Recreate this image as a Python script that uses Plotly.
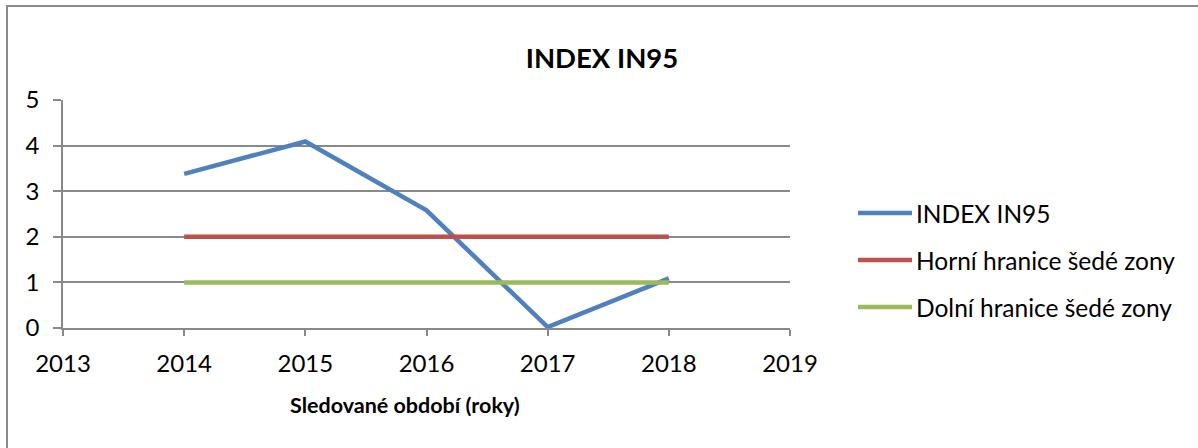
import plotly.graph_objects as go

# data
years = [2014, 2015, 2016, 2017, 2018]
index_in95 = [3.38, 4.09, 2.58, 0.02, 1.09]
horni_hranice = [2, 2, 2, 2, 2]
dolni_hranice = [1, 1, 1, 1, 1]

series_names = ["INDEX IN95", "Horní hranice šedé zony", "Dolní hranice šedé zony"]
series_colors = ["#4F81BD", "#C0504D", "#9BBB59"]

W, H = 1198, 448
# plot area in pixels
L, R, T, B = 63, 790, 100, 328
FONT = "Lato"
GRAY = "#898989"


def px(x):
    return (x - L) / (R - L)


def py(y):
    return (B - y) / (B - T)


fig = go.Figure()
for vals, name, color in zip([index_in95, horni_hranice, dolni_hranice], series_names, series_colors):
    fig.add_trace(go.Scatter(x=years, y=vals, mode="lines", name=name,
                             line=dict(color=color, width=4.5), showlegend=False))

shapes = [
    # outer chart border (runs off the right and bottom edge)
    dict(type="rect", xref="paper", yref="paper",
         x0=px(7), x1=px(1210), y0=py(460), y1=py(6),
         line=dict(color=GRAY, width=2), layer="below"),
]
annotations = [
    dict(text="<b>Sledované období (roky)</b>", xref="paper", yref="paper",
         x=px(405), y=py(405), xanchor="center", yanchor="middle", showarrow=False,
         font=dict(family=FONT, size=21.5, color="black")),
]

# legend drawn by hand so the line sample sits right next to the text
legend_y = [213, 260, 307]
for name, color, ly in zip(series_names, series_colors, legend_y):
    shapes.append(dict(type="line", xref="paper", yref="paper",
                       x0=px(858), x1=px(912), y0=py(ly), y1=py(ly),
                       line=dict(color=color, width=4.5)))
    annotations.append(dict(text=name, xref="paper", yref="paper",
                            x=px(914), y=py(ly), xanchor="left", yanchor="middle",
                            showarrow=False, font=dict(family=FONT, size=24.5, color="black")))

fig.update_layout(
    width=W, height=H,
    margin=dict(l=L, r=W - R, t=T, b=H - B),
    paper_bgcolor="white", plot_bgcolor="white",
    title=dict(text="<b>INDEX IN95</b>", x=602 / W, y=1 - 58 / H,
               xanchor="center", yanchor="middle",
               font=dict(family=FONT, size=27.5, color="black")),
    xaxis=dict(range=[2013, 2019], dtick=1, tick0=2013, showgrid=False, zeroline=False,
               showline=True, linecolor=GRAY, linewidth=1.5,
               ticks="outside", ticklen=6, tickcolor=GRAY, tickwidth=1.5,
               ticklabelstandoff=7,
               tickfont=dict(family=FONT, size=24, color="black")),
    yaxis=dict(range=[0, 5], dtick=1, showgrid=True, gridcolor=GRAY, gridwidth=1.5,
               zeroline=False, showline=True, linecolor=GRAY, linewidth=1.5,
               ticks="outside", ticklen=8, tickcolor=GRAY, tickwidth=1.5,
               ticklabelstandoff=9,
               tickfont=dict(family=FONT, size=24, color="black")),
    shapes=shapes,
    annotations=annotations,
    showlegend=False,
)

# drop the default body margin so the figure sits at the window's top-left corner
fig.write_html("out.html", config=dict(displayModeBar=False),
               post_script="document.body.style.margin='0';")
